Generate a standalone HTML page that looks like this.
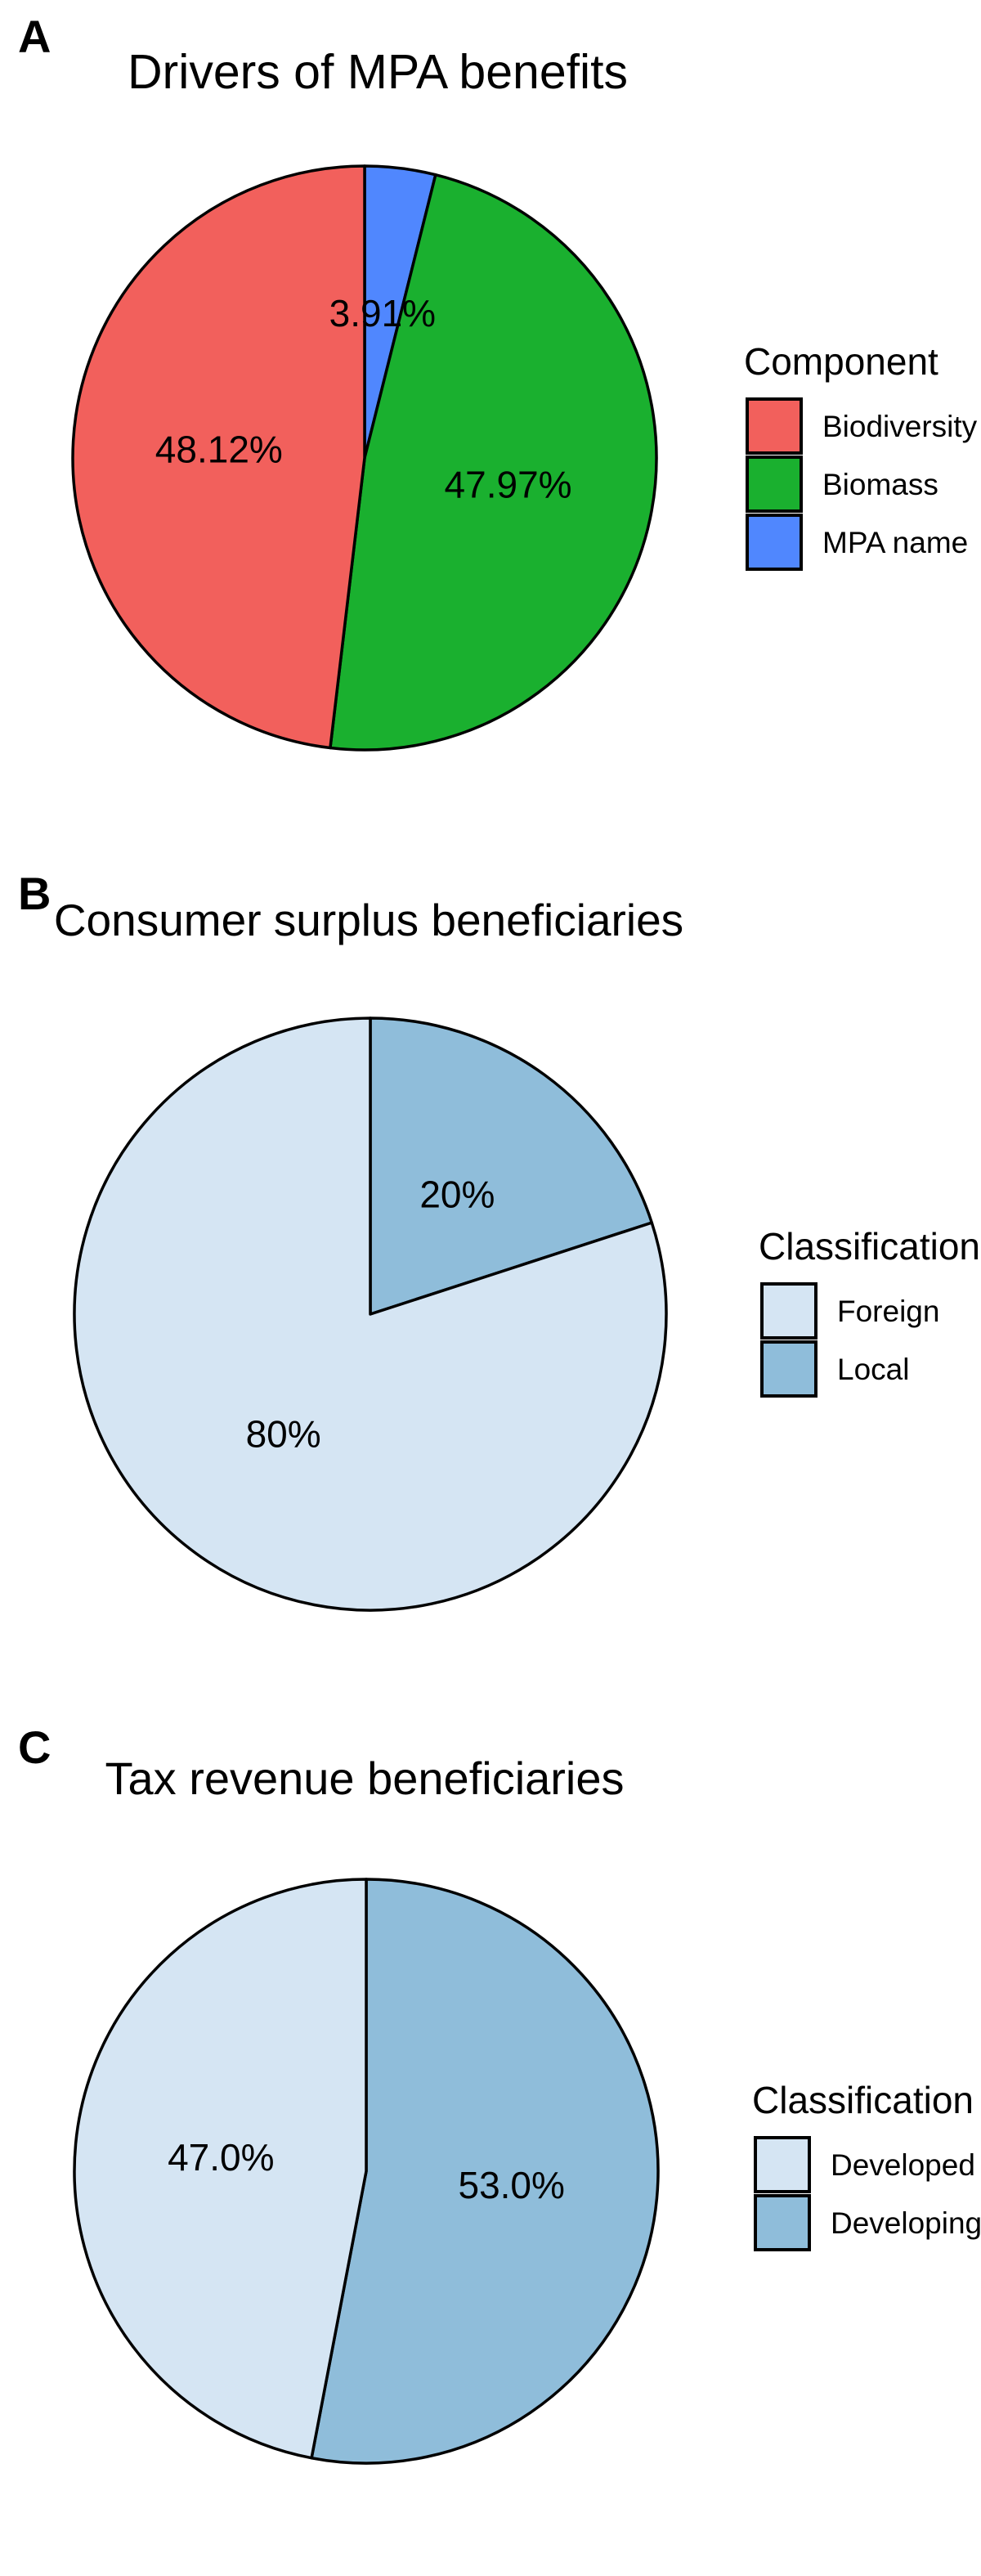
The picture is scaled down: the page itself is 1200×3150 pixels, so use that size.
<!DOCTYPE html>
<html><head><meta charset="utf-8">
<style>
html,body{margin:0;padding:0;background:#fff;}
svg{display:block;font-family:"Liberation Sans",Arial,sans-serif;}
</style></head>
<body>
<svg id="fig" width="1200" height="3150" viewBox="0 0 1200 3150" xmlns="http://www.w3.org/2000/svg">
  <rect width="1200" height="3150" fill="#fff"/>
  <text x="22" y="64" font-size="56" font-weight="bold">A</text>
  <text x="462" y="108" font-size="59" text-anchor="middle">Drivers of MPA benefits</text>
  <text x="22" y="1112" font-size="56" font-weight="bold">B</text>
  <text x="451" y="1144" font-size="55" text-anchor="middle">Consumer surplus beneficiaries</text>
  <text x="22" y="2156" font-size="56" font-weight="bold">C</text>
  <text x="446" y="2194" font-size="56" text-anchor="middle">Tax revenue beneficiaries</text>
  <g id="pies"></g>
</svg>
<script>
// Panel A data (clockwise from top)
const catsA = ["MPA name","Biomass","Biodiversity"];
const valsA = [3.91, 47.97, 48.12];
const labelsA = ["3.91%","47.97%","48.12%"];
const legendA = ["Biodiversity","Biomass","MPA name"];
// Panel B data
const catsB = ["Local","Foreign"];
const valsB = [20, 80];
const labelsB = ["20%","80%"];
const legendB = ["Foreign","Local"];
// Panel C data
const catsC = ["Developing","Developed"];
const valsC = [53.0, 47.0];
const labelsC = ["53.0%","47.0%"];
const legendC = ["Developed","Developing"];

const NS = "http://www.w3.org/2000/svg";
const root = document.getElementById('pies');
function el(tag, attrs, parent){
  const e = document.createElementNS(NS, tag);
  for (const k in attrs) e.setAttribute(k, attrs[k]);
  (parent||root).appendChild(e);
  return e;
}
function drawPie(cfg){
  const g = el('g', {});
  
  
  const total = cfg.vals.reduce((a,b)=>a+b,0);
  const ang = v => v/total*2*Math.PI;
  let start = 0;
  cfg.vals.forEach((v,i)=>{
    const a0 = start, a1 = start + ang(v);
    const x0 = cfg.cx + cfg.r*Math.sin(a0), y0 = cfg.cy - cfg.r*Math.cos(a0);
    const x1 = cfg.cx + cfg.r*Math.sin(a1), y1 = cfg.cy - cfg.r*Math.cos(a1);
    const large = (a1-a0) > Math.PI ? 1 : 0;
    const p = el('path', {d:`M${cfg.cx},${cfg.cy} L${x0},${y0} A${cfg.r},${cfg.r} 0 ${large} 1 ${x1},${y1} Z`,
      fill: cfg.colors[cfg.cats[i]], stroke:'#000', 'stroke-width':3.5, 'stroke-linejoin':'round'}, g);
    
    
    start = a1;
  });
  start = 0;
  cfg.vals.forEach((v,i)=>{
    const mid = start + ang(v)/2;
    const lx = cfg.cx + cfg.r*0.5*Math.sin(mid), ly = cfg.cy - cfg.r*0.5*Math.cos(mid);
    const t = el('text', {x:lx, y:ly+16, 'font-size':46, 'text-anchor':'middle', fill:'#000'}, g);
    t.textContent = cfg.labels[i];
    
    
    start += ang(v);
  });
  const lg = el('g', {}, g);
  
  
  const tt = el('text', {x:cfg.lx, y:cfg.ly, 'font-size':46}, lg);
  tt.textContent = cfg.ltitle;
  
  
  cfg.legend.forEach((name,i)=>{
    const ky = cfg.ly + 30 + i*71;
    const r = el('rect', {x:cfg.lx+4, y:ky, width:66, height:66, fill:cfg.colors[name], stroke:'#000', 'stroke-width':4}, lg);
    
    
    const tx = el('text', {x:cfg.lx+96, y:ky+46, 'font-size':37}, lg);
    tx.textContent = name;
    
    
  });
}
drawPie({id:'panel-a', cats:catsA, vals:valsA, labels:labelsA, legend:legendA, cx:446, cy:560, r:357,
  colors:{"Biodiversity":"#F2605C","Biomass":"#1AB02F","MPA name":"#5087FE"}, lx:910, ly:458, ltitle:"Component"});
drawPie({id:'panel-b', cats:catsB, vals:valsB, labels:labelsB, legend:legendB, cx:453, cy:1607, r:362,
  colors:{"Foreign":"#D5E5F3","Local":"#8FBDDA"}, lx:928, ly:1540, ltitle:"Classification"});
drawPie({id:'panel-c', cats:catsC, vals:valsC, labels:labelsC, legend:legendC, cx:448, cy:2655, r:357,
  colors:{"Developed":"#D5E5F3","Developing":"#8FBDDA"}, lx:920, ly:2584, ltitle:"Classification"});
</script>
</body></html>
